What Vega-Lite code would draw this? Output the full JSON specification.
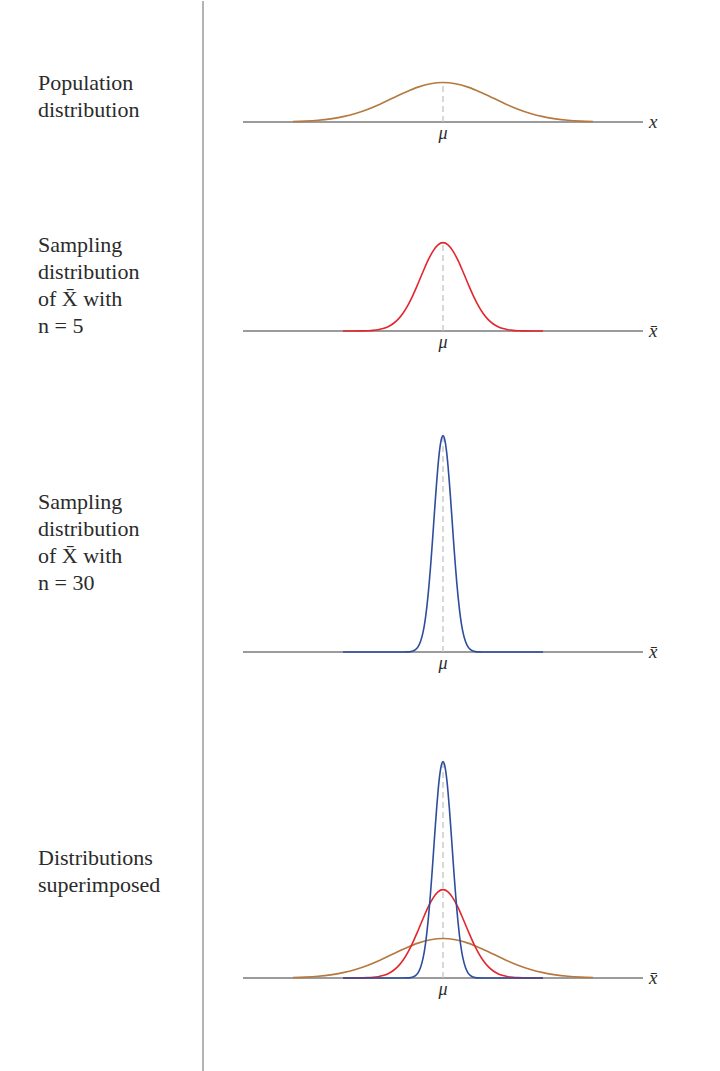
{
  "$schema": "https://vega.github.io/schema/vega-lite/v6.json",
  "padding": 0,
  "spacing": 0,
  "bounds": "flush",
  "background": "white",
  "config": {"view": {"stroke": null}, "font": "Liberation Serif", "concat": {"spacing": 0}, "scale": {"zero": false}},
  "resolve": {"scale": {"x": "independent", "y": "independent", "color": "shared"}},
  "datasets": {
    "labels": [
      {"panel": 1, "label": "Population\ndistribution", "axis": "x"},
      {"panel": 2, "label": "Sampling\ndistribution\nof X\u0304 with\nn = 5", "axis": "x\u0304"},
      {"panel": 3, "label": "Sampling\ndistribution\nof X\u0304 with\nn = 30", "axis": "x\u0304"},
      {"panel": 4, "label": "Distributions\nsuperimposed", "axis": "x\u0304"}
    ],
    "curves": [
      {"d": "pop", "z": -3, "f": 0.0111}, {"d": "pop", "z": -2.75, "f": 0.0228}, {"d": "pop", "z": -2.5, "f": 0.0439}, {"d": "pop", "z": -2.25, "f": 0.0796},
      {"d": "pop", "z": -2, "f": 0.1353}, {"d": "pop", "z": -1.75, "f": 0.2163}, {"d": "pop", "z": -1.5, "f": 0.3247}, {"d": "pop", "z": -1.25, "f": 0.4578},
      {"d": "pop", "z": -1, "f": 0.6065}, {"d": "pop", "z": -0.75, "f": 0.7548}, {"d": "pop", "z": -0.5, "f": 0.8825}, {"d": "pop", "z": -0.25, "f": 0.9692},
      {"d": "pop", "z": 0, "f": 1},
      {"d": "pop", "z": 0.25, "f": 0.9692}, {"d": "pop", "z": 0.5, "f": 0.8825}, {"d": "pop", "z": 0.75, "f": 0.7548}, {"d": "pop", "z": 1, "f": 0.6065},
      {"d": "pop", "z": 1.25, "f": 0.4578}, {"d": "pop", "z": 1.5, "f": 0.3247}, {"d": "pop", "z": 1.75, "f": 0.2163}, {"d": "pop", "z": 2, "f": 0.1353},
      {"d": "pop", "z": 2.25, "f": 0.0796}, {"d": "pop", "z": 2.5, "f": 0.0439}, {"d": "pop", "z": 2.75, "f": 0.0228}, {"d": "pop", "z": 3, "f": 0.0111},

      {"d": "n5", "z": -2, "f": 0.0001}, {"d": "n5", "z": -1.8, "f": 0.0007}, {"d": "n5", "z": -1.6, "f": 0.0037}, {"d": "n5", "z": -1.5, "f": 0.0081},
      {"d": "n5", "z": -1.4, "f": 0.0167}, {"d": "n5", "z": -1.3, "f": 0.0327}, {"d": "n5", "z": -1.2, "f": 0.0611}, {"d": "n5", "z": -1.1, "f": 0.1086},
      {"d": "n5", "z": -1, "f": 0.1835}, {"d": "n5", "z": -0.9, "f": 0.295}, {"d": "n5", "z": -0.8, "f": 0.451}, {"d": "n5", "z": -0.7, "f": 0.657},
      {"d": "n5", "z": -0.6, "f": 0.909}, {"d": "n5", "z": -0.5, "f": 1.197}, {"d": "n5", "z": -0.4, "f": 1.499}, {"d": "n5", "z": -0.3, "f": 1.786},
      {"d": "n5", "z": -0.2, "f": 2.023}, {"d": "n5", "z": -0.1, "f": 2.181}, {"d": "n5", "z": 0, "f": 2.236},
      {"d": "n5", "z": 0.1, "f": 2.181}, {"d": "n5", "z": 0.2, "f": 2.023}, {"d": "n5", "z": 0.3, "f": 1.786}, {"d": "n5", "z": 0.4, "f": 1.499},
      {"d": "n5", "z": 0.5, "f": 1.197}, {"d": "n5", "z": 0.6, "f": 0.909}, {"d": "n5", "z": 0.7, "f": 0.657}, {"d": "n5", "z": 0.8, "f": 0.451},
      {"d": "n5", "z": 0.9, "f": 0.295}, {"d": "n5", "z": 1, "f": 0.1835}, {"d": "n5", "z": 1.1, "f": 0.1086}, {"d": "n5", "z": 1.2, "f": 0.0611},
      {"d": "n5", "z": 1.3, "f": 0.0327}, {"d": "n5", "z": 1.4, "f": 0.0167}, {"d": "n5", "z": 1.5, "f": 0.0081}, {"d": "n5", "z": 1.6, "f": 0.0037},
      {"d": "n5", "z": 1.8, "f": 0.0007}, {"d": "n5", "z": 2, "f": 0.0001},

      {"d": "n30", "z": -2, "f": 0}, {"d": "n30", "z": -1.5, "f": 0}, {"d": "n30", "z": -1, "f": 0}, {"d": "n30", "z": -0.8, "f": 0.0004},
      {"d": "n30", "z": -0.7, "f": 0.0035}, {"d": "n30", "z": -0.65, "f": 0.0097}, {"d": "n30", "z": -0.6, "f": 0.0247}, {"d": "n30", "z": -0.55, "f": 0.0586},
      {"d": "n30", "z": -0.5, "f": 0.1288}, {"d": "n30", "z": -0.45, "f": 0.263}, {"d": "n30", "z": -0.4, "f": 0.497}, {"d": "n30", "z": -0.375, "f": 0.664},
      {"d": "n30", "z": -0.35, "f": 0.872}, {"d": "n30", "z": -0.325, "f": 1.123}, {"d": "n30", "z": -0.3, "f": 1.42}, {"d": "n30", "z": -0.275, "f": 1.762},
      {"d": "n30", "z": -0.25, "f": 2.145}, {"d": "n30", "z": -0.225, "f": 2.563}, {"d": "n30", "z": -0.2, "f": 3.006}, {"d": "n30", "z": -0.175, "f": 3.46},
      {"d": "n30", "z": -0.15, "f": 3.908}, {"d": "n30", "z": -0.125, "f": 4.333}, {"d": "n30", "z": -0.1, "f": 4.714}, {"d": "n30", "z": -0.075, "f": 5.034},
      {"d": "n30", "z": -0.05, "f": 5.276}, {"d": "n30", "z": -0.025, "f": 5.426}, {"d": "n30", "z": 0, "f": 5.477},
      {"d": "n30", "z": 0.025, "f": 5.426}, {"d": "n30", "z": 0.05, "f": 5.276}, {"d": "n30", "z": 0.075, "f": 5.034}, {"d": "n30", "z": 0.1, "f": 4.714},
      {"d": "n30", "z": 0.125, "f": 4.333}, {"d": "n30", "z": 0.15, "f": 3.908}, {"d": "n30", "z": 0.175, "f": 3.46}, {"d": "n30", "z": 0.2, "f": 3.006},
      {"d": "n30", "z": 0.225, "f": 2.563}, {"d": "n30", "z": 0.25, "f": 2.145}, {"d": "n30", "z": 0.275, "f": 1.762}, {"d": "n30", "z": 0.3, "f": 1.42},
      {"d": "n30", "z": 0.325, "f": 1.123}, {"d": "n30", "z": 0.35, "f": 0.872}, {"d": "n30", "z": 0.375, "f": 0.664}, {"d": "n30", "z": 0.4, "f": 0.497},
      {"d": "n30", "z": 0.45, "f": 0.263}, {"d": "n30", "z": 0.5, "f": 0.1288}, {"d": "n30", "z": 0.55, "f": 0.0586}, {"d": "n30", "z": 0.6, "f": 0.0247},
      {"d": "n30", "z": 0.65, "f": 0.0097}, {"d": "n30", "z": 0.7, "f": 0.0035}, {"d": "n30", "z": 0.8, "f": 0.0004}, {"d": "n30", "z": 1, "f": 0},
      {"d": "n30", "z": 1.5, "f": 0}, {"d": "n30", "z": 2, "f": 0}
    ]
  },
  "vconcat": [
    {
      "width": 720, "height": 180,
      "layer": [
        {"data": {"values": [{}]}, "mark": {"type": "rule", "color": "#8c8c8c", "strokeWidth": 1.3},
         "encoding": {"x": {"datum": -4.8, "type": "quantitative", "scale": {"domain": [-8.86, 5.54], "nice": false}, "axis": null}}},
        {"data": {"values": [{}]}, "mark": {"type": "rule", "color": "#7a7a7a", "strokeWidth": 1.3},
         "encoding": {"x": {"datum": -4, "type": "quantitative"}, "x2": {"datum": 4},
                      "y": {"datum": 0, "type": "quantitative", "scale": {"domain": [-1.494, 3.063], "nice": false}, "axis": null}}},
        {"data": {"values": [{}]}, "mark": {"type": "rule", "color": "#c4c4c4", "strokeWidth": 1.3, "strokeDash": [6, 4]},
         "encoding": {"x": {"datum": 0, "type": "quantitative"}, "y": {"datum": 0, "type": "quantitative"}, "y2": {"datum": 1}}},
        {"data": {"name": "curves"}, "transform": [{"filter": "datum.d === 'pop'"}],
         "mark": {"type": "line", "strokeWidth": 1.6, "interpolate": "monotone"},
         "encoding": {"x": {"field": "z", "type": "quantitative"}, "y": {"field": "f", "type": "quantitative"},
                      "color": {"field": "d", "type": "nominal", "scale": {"domain": ["pop", "n5", "n30"], "range": ["#b5783f", "#e3262d", "#2f4d9c"]}, "legend": null}}},
        {"data": {"name": "labels"}, "transform": [{"filter": "datum.panel === 1"}],
         "mark": {"type": "text", "align": "left", "baseline": "top", "fontSize": 22, "lineHeight": 27, "lineBreak": "\n", "color": "#2b2b2b"},
         "encoding": {"x": {"datum": -8.1, "type": "quantitative"}, "y": {"datum": 1.25, "type": "quantitative"}, "text": {"field": "label"}}},
        {"data": {"name": "labels"}, "transform": [{"filter": "datum.panel === 1"}],
         "mark": {"type": "text", "align": "left", "baseline": "middle", "fontSize": 19, "fontStyle": "italic", "color": "#2b2b2b", "dy": 0},
         "encoding": {"x": {"datum": 4.12, "type": "quantitative"}, "y": {"datum": 0, "type": "quantitative"}, "text": {"field": "axis"}}},
        {"data": {"values": [{}]},
         "mark": {"type": "text", "align": "center", "baseline": "middle", "fontSize": 18, "fontStyle": "italic", "color": "#2b2b2b", "dy": 12, "text": "μ"},
         "encoding": {"x": {"datum": 0, "type": "quantitative"}, "y": {"datum": 0, "type": "quantitative"}}}
      ]
    },
    {
      "width": 720, "height": 220,
      "layer": [
        {"data": {"values": [{}]}, "mark": {"type": "rule", "color": "#8c8c8c", "strokeWidth": 1.3},
         "encoding": {"x": {"datum": -4.8, "type": "quantitative", "scale": {"domain": [-8.86, 5.54], "nice": false}, "axis": null}}},
        {"data": {"values": [{}]}, "mark": {"type": "rule", "color": "#7a7a7a", "strokeWidth": 1.3},
         "encoding": {"x": {"datum": -4, "type": "quantitative"}, "x2": {"datum": 4},
                      "y": {"datum": 0, "type": "quantitative", "scale": {"domain": [-1.772, 3.797], "nice": false}, "axis": null}}},
        {"data": {"values": [{}]}, "mark": {"type": "rule", "color": "#c4c4c4", "strokeWidth": 1.3, "strokeDash": [6, 4]},
         "encoding": {"x": {"datum": 0, "type": "quantitative"}, "y": {"datum": 0, "type": "quantitative"}, "y2": {"datum": 2.236}}},
        {"data": {"name": "curves"}, "transform": [{"filter": "datum.d === 'n5'"}],
         "mark": {"type": "line", "strokeWidth": 1.6, "interpolate": "monotone"},
         "encoding": {"x": {"field": "z", "type": "quantitative"}, "y": {"field": "f", "type": "quantitative"},
                      "color": {"field": "d", "type": "nominal", "scale": {"domain": ["pop", "n5", "n30"], "range": ["#b5783f", "#e3262d", "#2f4d9c"]}, "legend": null}}},
        {"data": {"name": "labels"}, "transform": [{"filter": "datum.panel === 2"}],
         "mark": {"type": "text", "align": "left", "baseline": "top", "fontSize": 22, "lineHeight": 27, "lineBreak": "\n", "color": "#2b2b2b"},
         "encoding": {"x": {"datum": -8.1, "type": "quantitative"}, "y": {"datum": 2.43, "type": "quantitative"}, "text": {"field": "label"}}},
        {"data": {"name": "labels"}, "transform": [{"filter": "datum.panel === 2"}],
         "mark": {"type": "text", "align": "left", "baseline": "middle", "fontSize": 19, "fontStyle": "italic", "color": "#2b2b2b", "dy": 0},
         "encoding": {"x": {"datum": 4.12, "type": "quantitative"}, "y": {"datum": 0, "type": "quantitative"}, "text": {"field": "axis"}}},
        {"data": {"values": [{}]},
         "mark": {"type": "text", "align": "center", "baseline": "middle", "fontSize": 18, "fontStyle": "italic", "color": "#2b2b2b", "dy": 12, "text": "μ"},
         "encoding": {"x": {"datum": 0, "type": "quantitative"}, "y": {"datum": 0, "type": "quantitative"}}}
      ]
    },
    {
      "width": 720, "height": 320,
      "layer": [
        {"data": {"values": [{}]}, "mark": {"type": "rule", "color": "#8c8c8c", "strokeWidth": 1.3},
         "encoding": {"x": {"datum": -4.8, "type": "quantitative", "scale": {"domain": [-8.86, 5.54], "nice": false}, "axis": null}}},
        {"data": {"values": [{}]}, "mark": {"type": "rule", "color": "#7a7a7a", "strokeWidth": 1.3},
         "encoding": {"x": {"datum": -4, "type": "quantitative"}, "x2": {"datum": 4},
                      "y": {"datum": 0, "type": "quantitative", "scale": {"domain": [-1.747, 6.354], "nice": false}, "axis": null}}},
        {"data": {"values": [{}]}, "mark": {"type": "rule", "color": "#c4c4c4", "strokeWidth": 1.3, "strokeDash": [6, 4]},
         "encoding": {"x": {"datum": 0, "type": "quantitative"}, "y": {"datum": 0, "type": "quantitative"}, "y2": {"datum": 5.477}}},
        {"data": {"name": "curves"}, "transform": [{"filter": "datum.d === 'n30'"}],
         "mark": {"type": "line", "strokeWidth": 1.6, "interpolate": "monotone"},
         "encoding": {"x": {"field": "z", "type": "quantitative"}, "y": {"field": "f", "type": "quantitative"},
                      "color": {"field": "d", "type": "nominal", "scale": {"domain": ["pop", "n5", "n30"], "range": ["#b5783f", "#e3262d", "#2f4d9c"]}, "legend": null}}},
        {"data": {"name": "labels"}, "transform": [{"filter": "datum.panel === 3"}],
         "mark": {"type": "text", "align": "left", "baseline": "top", "fontSize": 22, "lineHeight": 27, "lineBreak": "\n", "color": "#2b2b2b"},
         "encoding": {"x": {"datum": -8.1, "type": "quantitative"}, "y": {"datum": 4.05, "type": "quantitative"}, "text": {"field": "label"}}},
        {"data": {"name": "labels"}, "transform": [{"filter": "datum.panel === 3"}],
         "mark": {"type": "text", "align": "left", "baseline": "middle", "fontSize": 19, "fontStyle": "italic", "color": "#2b2b2b", "dy": 0},
         "encoding": {"x": {"datum": 4.12, "type": "quantitative"}, "y": {"datum": 0, "type": "quantitative"}, "text": {"field": "axis"}}},
        {"data": {"values": [{}]},
         "mark": {"type": "text", "align": "center", "baseline": "middle", "fontSize": 18, "fontStyle": "italic", "color": "#2b2b2b", "dy": 12, "text": "μ"},
         "encoding": {"x": {"datum": 0, "type": "quantitative"}, "y": {"datum": 0, "type": "quantitative"}}}
      ]
    },
    {
      "width": 720, "height": 351,
      "layer": [
        {"data": {"values": [{}]}, "mark": {"type": "rule", "color": "#8c8c8c", "strokeWidth": 1.3},
         "encoding": {"x": {"datum": -4.8, "type": "quantitative", "scale": {"domain": [-8.86, 5.54], "nice": false}, "axis": null}}},
        {"data": {"values": [{}]}, "mark": {"type": "rule", "color": "#7a7a7a", "strokeWidth": 1.3},
         "encoding": {"x": {"datum": -4, "type": "quantitative"}, "x2": {"datum": 4},
                      "y": {"datum": 0, "type": "quantitative", "scale": {"domain": [-2.38, 6.506], "nice": false}, "axis": null}}},
        {"data": {"values": [{}]}, "mark": {"type": "rule", "color": "#c4c4c4", "strokeWidth": 1.3, "strokeDash": [6, 4]},
         "encoding": {"x": {"datum": 0, "type": "quantitative"}, "y": {"datum": 0, "type": "quantitative"}, "y2": {"datum": 5.477}}},
        {"data": {"name": "curves"},
         "mark": {"type": "line", "strokeWidth": 1.6, "interpolate": "monotone"},
         "encoding": {"x": {"field": "z", "type": "quantitative"}, "y": {"field": "f", "type": "quantitative"},
                      "color": {"field": "d", "type": "nominal", "scale": {"domain": ["pop", "n5", "n30"], "range": ["#b5783f", "#e3262d", "#2f4d9c"]}, "legend": null}}},
        {"data": {"name": "labels"}, "transform": [{"filter": "datum.panel === 4"}],
         "mark": {"type": "text", "align": "left", "baseline": "top", "fontSize": 22, "lineHeight": 27, "lineBreak": "\n", "color": "#2b2b2b"},
         "encoding": {"x": {"datum": -8.1, "type": "quantitative"}, "y": {"datum": 3.29, "type": "quantitative"}, "text": {"field": "label"}}},
        {"data": {"name": "labels"}, "transform": [{"filter": "datum.panel === 4"}],
         "mark": {"type": "text", "align": "left", "baseline": "middle", "fontSize": 19, "fontStyle": "italic", "color": "#2b2b2b", "dy": 0},
         "encoding": {"x": {"datum": 4.12, "type": "quantitative"}, "y": {"datum": 0, "type": "quantitative"}, "text": {"field": "axis"}}},
        {"data": {"values": [{}]},
         "mark": {"type": "text", "align": "center", "baseline": "middle", "fontSize": 18, "fontStyle": "italic", "color": "#2b2b2b", "dy": 12, "text": "μ"},
         "encoding": {"x": {"datum": 0, "type": "quantitative"}, "y": {"datum": 0, "type": "quantitative"}}}
      ]
    }
  ]
}
